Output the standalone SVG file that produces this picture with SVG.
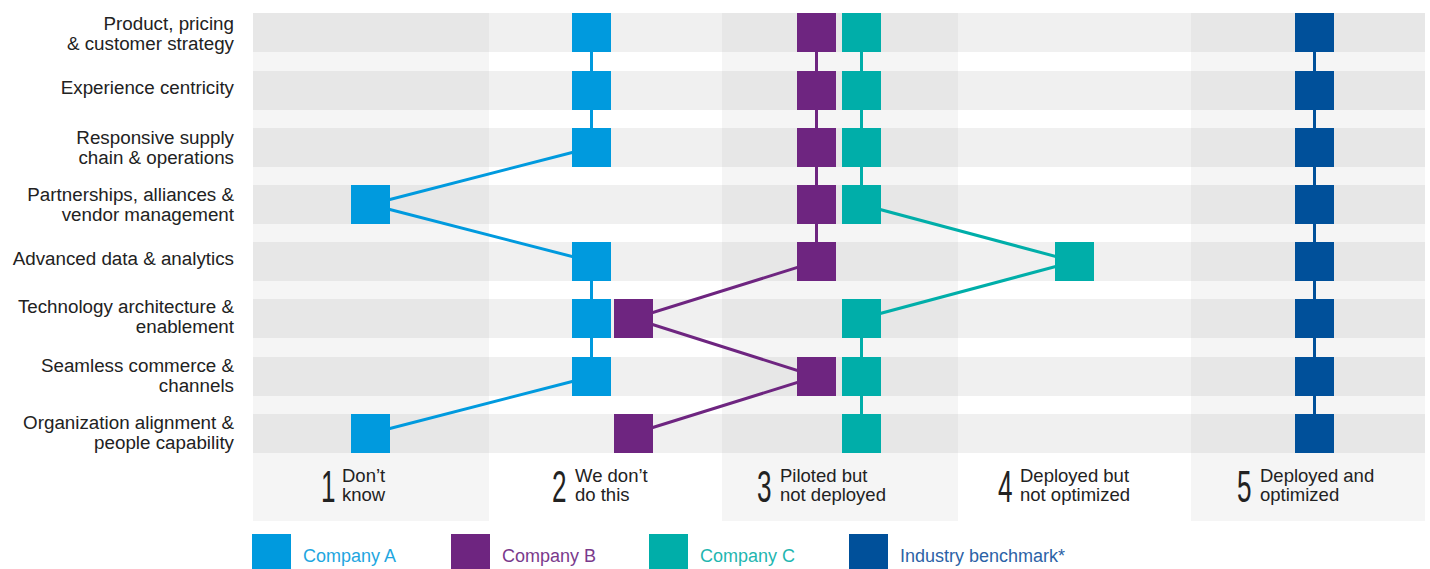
<svg xmlns="http://www.w3.org/2000/svg" width="1430" height="569" viewBox="0 0 1430 569">
<style>
.lbl{font-family:"Liberation Sans",Arial,sans-serif;font-size:18.8px;fill:#222;text-anchor:end}
.cap{font-family:"Liberation Sans",Arial,sans-serif;font-size:18.5px;fill:#222}
.dig{font-family:"Liberation Sans",Arial,sans-serif;font-size:45px;fill:#222}
.leg{font-family:"Liberation Sans",Arial,sans-serif;font-size:18px}
.oddbg{fill:#f5f5f5}
.oddrow{fill:#e7e7e7}
.evenrow{fill:#f0f0f0}
.ln{fill:none;stroke-width:3}
.ca{fill:#009ade}.cb{fill:#6e2580}.cc{fill:#00aea9}.cd{fill:#00509a}
</style>
<defs>
<rect id="sq" width="39" height="39"/>
</defs>
<rect width="1430" height="569" fill="#fff"/>
<g id="background">
<rect class="oddbg" x="253" y="13" width="236" height="508"/>
<rect class="oddbg" x="722" y="13" width="236" height="508"/>
<rect class="oddbg" x="1191" y="13" width="234" height="508"/>
<g class="oddrow">
<rect x="253" y="13" width="236" height="39"/><rect x="253" y="71" width="236" height="39"/><rect x="253" y="128" width="236" height="39"/><rect x="253" y="185" width="236" height="39"/><rect x="253" y="242" width="236" height="39"/><rect x="253" y="299" width="236" height="39"/><rect x="253" y="357" width="236" height="39"/><rect x="253" y="414" width="236" height="39"/>
<rect x="722" y="13" width="236" height="39"/><rect x="722" y="71" width="236" height="39"/><rect x="722" y="128" width="236" height="39"/><rect x="722" y="185" width="236" height="39"/><rect x="722" y="242" width="236" height="39"/><rect x="722" y="299" width="236" height="39"/><rect x="722" y="357" width="236" height="39"/><rect x="722" y="414" width="236" height="39"/>
<rect x="1191" y="13" width="234" height="39"/><rect x="1191" y="71" width="234" height="39"/><rect x="1191" y="128" width="234" height="39"/><rect x="1191" y="185" width="234" height="39"/><rect x="1191" y="242" width="234" height="39"/><rect x="1191" y="299" width="234" height="39"/><rect x="1191" y="357" width="234" height="39"/><rect x="1191" y="414" width="234" height="39"/>
</g>
<g class="evenrow">
<rect x="489" y="13" width="233" height="39"/><rect x="489" y="71" width="233" height="39"/><rect x="489" y="128" width="233" height="39"/><rect x="489" y="185" width="233" height="39"/><rect x="489" y="242" width="233" height="39"/><rect x="489" y="299" width="233" height="39"/><rect x="489" y="357" width="233" height="39"/><rect x="489" y="414" width="233" height="39"/>
<rect x="958" y="13" width="233" height="39"/><rect x="958" y="71" width="233" height="39"/><rect x="958" y="128" width="233" height="39"/><rect x="958" y="185" width="233" height="39"/><rect x="958" y="242" width="233" height="39"/><rect x="958" y="299" width="233" height="39"/><rect x="958" y="357" width="233" height="39"/><rect x="958" y="414" width="233" height="39"/>
</g>
</g>
<g id="row-labels">
<text class="lbl" x="234" y="29.5">Product, pricing</text>
<text class="lbl" x="234" y="49.5">&amp; customer strategy</text>
<text class="lbl" x="234" y="93.5">Experience centricity</text>
<text class="lbl" x="234" y="143.5">Responsive supply </text>
<text class="lbl" x="234" y="163.5">chain &amp; operations</text>
<text class="lbl" x="234" y="200.5">Partnerships, alliances &amp;</text>
<text class="lbl" x="234" y="220.5">vendor management</text>
<text class="lbl" x="234" y="264.5">Advanced data &amp; analytics</text>
<text class="lbl" x="234" y="312.5">Technology architecture &amp;</text>
<text class="lbl" x="234" y="332.5">enablement</text>
<text class="lbl" x="234" y="371.5">Seamless commerce &amp;</text>
<text class="lbl" x="234" y="391.5">channels</text>
<text class="lbl" x="234" y="428.5">Organization alignment &amp;</text>
<text class="lbl" x="234" y="448.5">people capability</text>
</g>
<g id="scale-labels">
<text class="dig" transform="translate(321 502) scale(0.58 1)">1</text>
<text class="cap" x="342" y="482">Don’t</text><text class="cap" x="342" y="501">know</text>
<text class="dig" transform="translate(552 502) scale(0.58 1)">2</text>
<text class="cap" x="575" y="482">We don’t</text><text class="cap" x="575" y="501">do this</text>
<text class="dig" transform="translate(757 502) scale(0.58 1)">3</text>
<text class="cap" x="780" y="482">Piloted but</text><text class="cap" x="780" y="501">not deployed</text>
<text class="dig" transform="translate(998 502) scale(0.58 1)">4</text>
<text class="cap" x="1020" y="482">Deployed but</text><text class="cap" x="1020" y="501">not optimized</text>
<text class="dig" transform="translate(1237 502) scale(0.58 1)">5</text>
<text class="cap" x="1260" y="482">Deployed and</text><text class="cap" x="1260" y="501">optimized</text>
</g>
<g id="connectors">
<polyline class="ln" stroke="#009ade" points="591.5,32.5 591.5,90.5 591.5,147.5 370.5,204.5 591.5,261.5 591.5,318.5 591.5,376.5 370.5,433.5"/>
<polyline class="ln" stroke="#6e2580" points="816.5,32.5 816.5,90.5 816.5,147.5 816.5,204.5 816.5,261.5 633.5,318.5 816.5,376.5 633.5,433.5"/>
<polyline class="ln" stroke="#00aea9" points="861.5,32.5 861.5,90.5 861.5,147.5 861.5,204.5 1074.5,261.5 861.5,318.5 861.5,376.5 861.5,433.5"/>
<polyline class="ln" stroke="#00509a" points="1314.5,32.5 1314.5,433.5"/>
</g>
<g id="company-a" class="ca">
<g id="a-r1"><use href="#sq" x="572" y="13"/></g>
<g id="a-r2"><use href="#sq" x="572" y="71"/></g>
<g id="a-r3"><use href="#sq" x="572" y="128"/></g>
<g id="a-r4"><use href="#sq" x="351" y="185"/></g>
<g id="a-r5"><use href="#sq" x="572" y="242"/></g>
<g id="a-r6"><use href="#sq" x="572" y="299"/></g>
<g id="a-r7"><use href="#sq" x="572" y="357"/></g>
<g id="a-r8"><use href="#sq" x="351" y="414"/></g>
</g>
<g id="company-b" class="cb">
<g id="b-r1"><use href="#sq" x="797" y="13"/></g>
<g id="b-r2"><use href="#sq" x="797" y="71"/></g>
<g id="b-r3"><use href="#sq" x="797" y="128"/></g>
<g id="b-r4"><use href="#sq" x="797" y="185"/></g>
<g id="b-r5"><use href="#sq" x="797" y="242"/></g>
<g id="b-r6"><use href="#sq" x="614" y="299"/></g>
<g id="b-r7"><use href="#sq" x="797" y="357"/></g>
<g id="b-r8"><use href="#sq" x="614" y="414"/></g>
</g>
<g id="company-c" class="cc">
<g id="c-r1"><use href="#sq" x="842" y="13"/></g>
<g id="c-r2"><use href="#sq" x="842" y="71"/></g>
<g id="c-r3"><use href="#sq" x="842" y="128"/></g>
<g id="c-r4"><use href="#sq" x="842" y="185"/></g>
<g id="c-r5"><use href="#sq" x="1055" y="242"/></g>
<g id="c-r6"><use href="#sq" x="842" y="299"/></g>
<g id="c-r7"><use href="#sq" x="842" y="357"/></g>
<g id="c-r8"><use href="#sq" x="842" y="414"/></g>
</g>
<g id="industry-benchmark" class="cd">
<g id="d-r1"><use href="#sq" x="1295" y="13"/></g>
<g id="d-r2"><use href="#sq" x="1295" y="71"/></g>
<g id="d-r3"><use href="#sq" x="1295" y="128"/></g>
<g id="d-r4"><use href="#sq" x="1295" y="185"/></g>
<g id="d-r5"><use href="#sq" x="1295" y="242"/></g>
<g id="d-r6"><use href="#sq" x="1295" y="299"/></g>
<g id="d-r7"><use href="#sq" x="1295" y="357"/></g>
<g id="d-r8"><use href="#sq" x="1295" y="414"/></g>
</g>
<g id="legend">
<g id="legend-a"><use href="#sq" class="ca" x="252" y="534"/><text class="leg" x="303" y="562" fill="#1ea6e0">Company A</text></g>
<g id="legend-b"><use href="#sq" class="cb" x="451" y="534"/><text class="leg" x="502" y="562" fill="#7a3a8c">Company B</text></g>
<g id="legend-c"><use href="#sq" class="cc" x="649" y="534"/><text class="leg" x="700" y="562" fill="#1fb6b0">Company C</text></g>
<g id="legend-d"><use href="#sq" class="cd" x="849" y="534"/><text class="leg" x="900" y="562" fill="#2c62a6">Industry benchmark*</text></g>
</g>
</svg>
